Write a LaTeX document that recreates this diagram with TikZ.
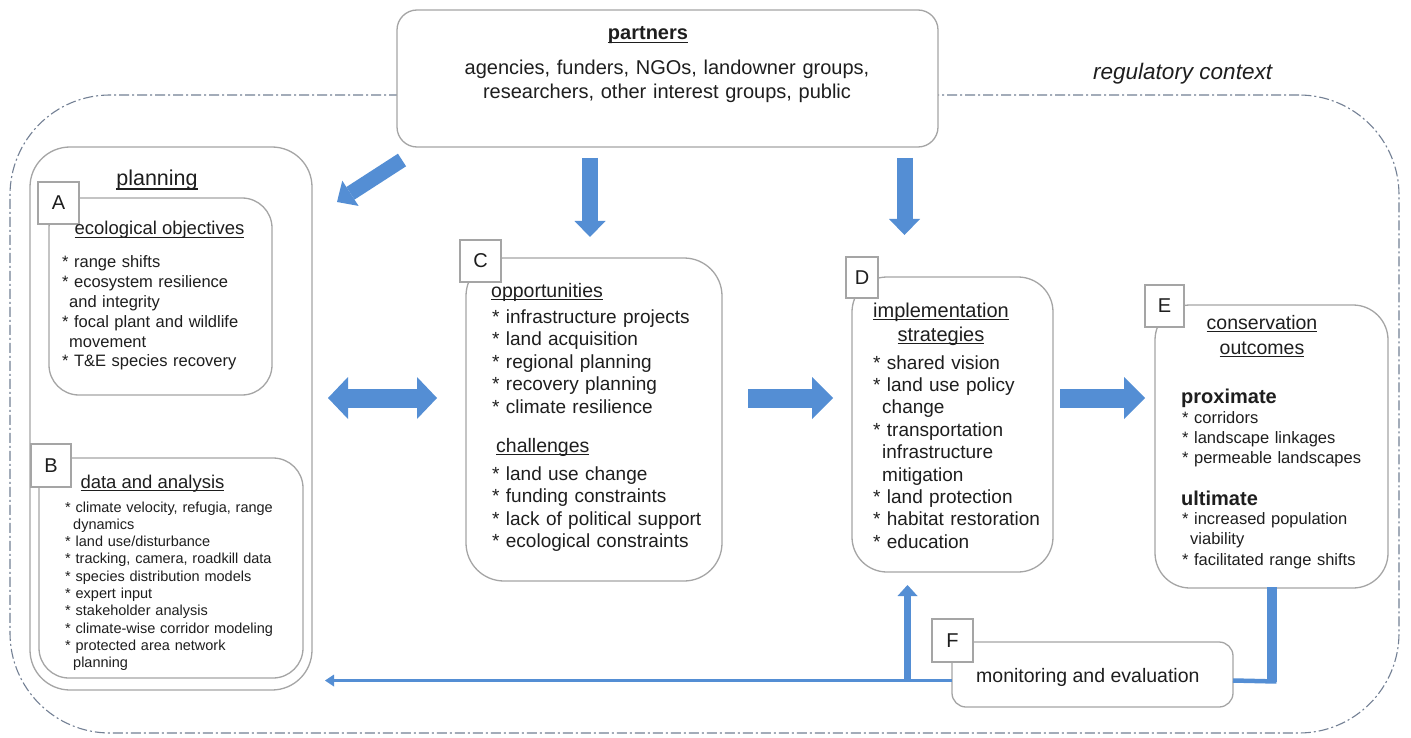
\documentclass[tikz,border=0pt]{standalone}
\usepackage{fontspec}
\setmainfont{Liberation Sans}
\usetikzlibrary{arrows.meta,calc}
\definecolor{boxgray}{RGB}{165,165,165}
\definecolor{regcol}{RGB}{115,128,148}
\definecolor{arrblue}{RGB}{84,142,212}
\definecolor{txt}{RGB}{30,30,30}
\newsavebox\ulbox
\newcommand\ulc[1]{\leavevmode\sbox\ulbox{#1}\rlap{\rule[-0.17em]{\wd\ulbox}{0.06em}}\usebox\ulbox}
\newcommand\myfs[2]{\fontsize{#1}{#2}\selectfont}
\tikzset{
  box/.style={draw=boxgray, line width=1.3pt, fill=white, inner sep=0pt, outer sep=0pt},
  sq/.style={draw=boxgray, line width=1.2pt, fill=white, inner sep=0pt, outer sep=0pt, text=txt, font=\myfs{20}{24}},
  regbox/.style={draw=regcol, line width=1.1pt, dash pattern=on 10pt off 3pt on 2pt off 3pt, rounded corners=100pt, inner sep=0pt},
  lst/.style={anchor=base west, inner sep=0pt, text width=#1, align=left, text=txt},
  ttl/.style={anchor=base, inner sep=0pt, text=txt},
  vblk/.style={arrblue, line width=16pt, -{Triangle[width=31pt,length=16pt,line width=0pt]}},
  hblk/.style={arrblue, line width=19pt, -{Triangle[width=42pt,length=21pt,line width=0pt]}},
  dblk/.style={arrblue, line width=19pt, {Triangle[width=42pt,length=20pt,line width=0pt]}-{Triangle[width=42pt,length=20pt,line width=0pt]}},
  diagblk/.style={arrblue, line width=15pt, -{Triangle[width=30pt,length=16pt,line width=0pt]}},
  fbline/.style={arrblue, line width=3.5pt, -{Triangle[width=12pt,length=9pt,line width=0pt]}},
  uparr/.style={arrblue, line width=7pt, -{Triangle[width=20pt,length=11pt,line width=0pt]}},
}
\begin{document}
\begin{tikzpicture}[x=1pt,y=-1pt]
\useasboundingbox[fill=white] (0,0) rectangle (1411,738);

% regulatory context frame
\node[regbox, minimum width=1389pt, minimum height=638pt] (reg) at (704.5,414) {};
\node[anchor=base west, inner sep=0pt, text=txt, font=\itshape\myfs{22.5}{27}] (regl) at (1093,80) {regulatory context};

% partners
\node[box, rounded corners=20pt, minimum width=541pt, minimum height=137pt] (partners) at (667.5,78.5) {};
\node[ttl, font=\bfseries\myfs{20}{24}] (ptitle) at (648,40) {\ulc{partners}};
\node[ttl, text width=520pt, align=center, font=\myfs{20}{24}] (ptext) at (667,75) {agencies, funders, NGOs, landowner groups,\\researchers, other interest groups, public};

% planning
\node[box, rounded corners=40pt, minimum width=282pt, minimum height=543pt] (planning) at (171,418.5) {};
\node[ttl, font=\myfs{21.5}{26}] (pltitle) at (157,186) {\ulc{planning}};

% A
\node[box, rounded corners=30pt, minimum width=223pt, minimum height=197pt] (Abox) at (160.5,296.5) {};
\node[sq, minimum width=41pt, minimum height=42pt] (Asq) at (58.5,203) {A};
\node[ttl, font=\myfs{18.5}{22}] (Atitle) at (159.5,235) {\ulc{ecological objectives}};
\node[lst=210pt, font=\myfs{16.5}{19.8}] (Aitems) at (62,268) {{*} range shifts\\{*} ecosystem resilience\\\hspace*{7pt}and integrity\\{*} focal plant and wildlife\\\hspace*{7pt}movement\\{*} T\&E species recovery};

% B
\node[box, rounded corners=30pt, minimum width=264pt, minimum height=220pt] (Bbox) at (171,568) {};
\node[sq, minimum width=40pt, minimum height=43pt] (Bsq) at (51,465.5) {B};
\node[ttl, font=\myfs{18.5}{22}] (Btitle) at (152.5,488) {\ulc{data and analysis}};
\node[lst=240pt, font=\myfs{14.5}{17.3}] (Bitems) at (65,512) {{*} climate velocity, refugia, range\\\hspace*{8pt}dynamics\\{*} land use/disturbance\\{*} tracking, camera, roadkill data\\{*} species distribution models\\{*} expert input\\{*} stakeholder analysis\\{*} climate-wise corridor modeling\\{*} protected area network\\\hspace*{8pt}planning};

% C
\node[box, rounded corners=38pt, minimum width=256pt, minimum height=323pt] (Cbox) at (594,419.5) {};
\node[sq, minimum width=41pt, minimum height=42pt] (Csq) at (480.5,261) {C};
\node[lst=220pt, font=\myfs{19.5}{23}] (Copp) at (491,297) {\ulc{opportunities}};
\node[lst=230pt, font=\myfs{19}{22.5}] (Citems1) at (492,323) {{*} infrastructure projects\\{*} land acquisition\\{*} regional planning\\{*} recovery planning\\{*} climate resilience};
\node[lst=220pt, font=\myfs{19.5}{23}] (Cchal) at (496,452) {\ulc{challenges}};
\node[lst=230pt, font=\myfs{19}{22.5}] (Citems2) at (492,480) {{*} land use change\\{*} funding constraints\\{*} lack of political support\\{*} ecological constraints};

% D
\node[box, rounded corners=35pt, minimum width=201pt, minimum height=295pt] (Dbox) at (952.5,424.5) {};
\node[sq, minimum width=32pt, minimum height=41pt] (Dsq) at (862,277.5) {D};
\node[ttl, text width=200pt, align=center, font=\myfs{20}{24}] (Dtitle) at (941,317) {\ulc{implementation}\\\ulc{strategies}};
\node[lst=180pt, font=\myfs{19}{22.4}] (Ditems) at (873,369) {{*} shared vision\\{*} land use policy\\\hspace*{9pt}change\\{*} transportation\\\hspace*{9pt}infrastructure\\\hspace*{9pt}mitigation\\{*} land protection\\{*} habitat restoration\\{*} education};

% E
\node[box, rounded corners=35pt, minimum width=233pt, minimum height=283pt] (Ebox) at (1271.5,446.5) {};
\node[sq, minimum width=39pt, minimum height=42pt] (Esq) at (1164.5,306) {E};
\node[ttl, text width=220pt, align=center, font=\myfs{19.5}{25}] (Etitle) at (1262,329) {\ulc{conservation}\\\ulc{outcomes}};
\node[lst=200pt, font=\bfseries\myfs{20}{24}] (Eprox) at (1181,403) {proximate};
\node[lst=200pt, font=\myfs{16.5}{20}] (Eitems1) at (1182,423) {{*} corridors\\{*} landscape linkages\\{*} permeable landscapes};
\node[lst=200pt, font=\bfseries\myfs{20}{24}] (Eult) at (1181,505) {ultimate};
\node[lst=200pt, font=\myfs{16.5}{20.5}] (Eitems2) at (1182,524) {{*} increased population\\\hspace*{8pt}viability\\{*} facilitated range shifts};

% F
\node[box, rounded corners=14pt, minimum width=281pt, minimum height=65pt] (Fbox) at (1092.5,674.5) {};
\node[sq, minimum width=41pt, minimum height=43pt] (Fsq) at (952.5,640.5) {F};
\node[anchor=base west, inner sep=0pt, text=txt, font=\myfs{19.5}{23}] (Ftext) at (976,682) {monitoring and evaluation};

% connectors
\draw[diagblk] ($(partners.south west)+(5,13)$) -- ($(planning.north east)+(25,55)$);
\draw[vblk] ($(partners.south -| Cbox.north)+(-4,11)$) -- ($(Cbox.north)+(-4,-21)$);
\draw[vblk] ($(partners.south -| Dbox.north)+(-48,11)$) -- ($(Dbox.north)+(-48,-42)$);
\draw[dblk] ($(planning.east)+(16,-20.5)$) -- ($(Cbox.west)+(-29,-21.5)$);
\draw[hblk] ($(Cbox.east)+(26,-21.5)$) -- ($(Dbox.west)+(-19,-26.5)$);
\draw[hblk] ($(Dbox.east)+(7,-26.5)$) -- ($(Ebox.west)+(-10,-48.5)$);
\coordinate (eturn) at ($(Ebox.south)+(0,94)$);
\draw[arrblue, line width=10pt] ($(Ebox.south)+(0,-1)$) -- (eturn);
\draw[arrblue, line width=4.5pt] ($(eturn)+(5,-0.5)$) -- ($(Fbox.east)+(0,6)$);
\draw[fbline] ($(Fbox.west)+(0,6)$) -- ($(planning.east)+(13,262)$);
\draw[uparr] ($(Dbox.south)+(-45,109)$) -- ($(Dbox.south)+(-45,13)$);
\end{tikzpicture}
\end{document}
